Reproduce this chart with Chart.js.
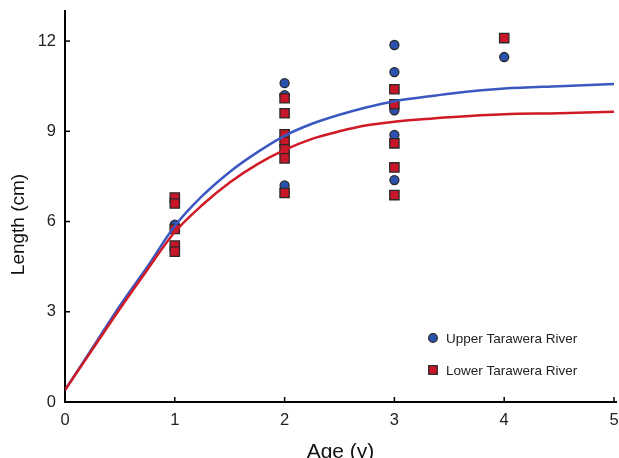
<!DOCTYPE html>
<html>
<head>
<meta charset="utf-8">
<script src="https://cdn.jsdelivr.net/npm/chart.js@4.4.1/dist/chart.umd.min.js"></script>
<style>
  html, body { margin: 0; padding: 0; background: #fff; }
  #wrap { width: 619px; height: 458px; }
</style>
</head>
<body>
<div id="wrap"><canvas id="growthChart" width="619" height="458"></canvas></div>
<script>
// Observed lengths by age
const upperAges = [1, 2, 2, 2, 2, 3, 3, 3, 3, 3, 4];
const upperLengths = [5.9, 10.6, 10.2, 8.3, 7.2, 11.87, 10.97, 9.7, 8.88, 7.38, 11.47];

const lowerAges = [1, 1, 1, 1, 1, 2, 2, 2, 2, 2, 2, 2, 3, 3, 3, 3, 3, 4];
const lowerLengths = [6.8, 6.6, 5.75, 5.2, 5.0, 10.1, 9.6, 8.9, 8.65, 8.4, 8.1, 6.95, 10.4, 9.9, 8.6, 7.8, 6.88, 12.1];

// Fitted growth curves
const curveAges = [0, 0.25, 0.5, 0.75, 1, 1.25, 1.5, 1.75, 2, 2.25, 2.5, 2.75, 3, 3.25, 3.5, 4, 4.5, 5];
const upperCurve = [0.4, 1.8, 3.2, 4.5, 5.85, 6.85, 7.65, 8.3, 8.85, 9.25, 9.55, 9.8, 10.0, 10.13, 10.25, 10.42, 10.5, 10.57];
const lowerCurve = [0.4, 1.75, 3.1, 4.4, 5.65, 6.55, 7.3, 7.9, 8.38, 8.75, 9.0, 9.2, 9.32, 9.4, 9.47, 9.57, 9.6, 9.65];

const xTicks = [0, 1, 2, 3, 4, 5];
const yTicks = [0, 3, 6, 9, 12];

const BLUE = '#2c52b0';
const RED = '#c81628';
const BLUE_LINE = '#3a58c0';
const RED_LINE = '#d01a26';
const EDGE = '#2a2a2a';
const FONT = '"Liberation Sans", Arial, sans-serif';

const toXY = (xs, ys) => xs.map((x, i) => ({ x: x, y: ys[i] }));

// inward tick marks + axis titles + legend
const decorPlugin = {
    id: 'decor',
    afterDraw(chart) {
        const c = chart.ctx;
        const xs = chart.scales.x, ys = chart.scales.y;
        const area = chart.chartArea;
        c.save();
        c.strokeStyle = '#000';
        c.lineWidth = 1.5;
        xTicks.forEach(v => {
            if (v === 0) return;
            const px = xs.getPixelForValue(v);
            c.beginPath(); c.moveTo(px, area.bottom); c.lineTo(px, area.bottom - 5); c.stroke();
        });
        yTicks.forEach(v => {
            if (v === 0) return;
            const py = ys.getPixelForValue(v);
            c.beginPath(); c.moveTo(area.left, py); c.lineTo(area.left + 5, py); c.stroke();
        });
        // axis runs a little past the last tick
        c.lineWidth = 2;
        c.beginPath(); c.moveTo(area.right - 1, area.bottom); c.lineTo(area.right + 3, area.bottom); c.stroke();

        // axis titles
        c.fillStyle = '#111';
        c.textAlign = 'center';
        c.textBaseline = 'middle';
        c.font = '21px ' + FONT;
        c.fillText('Age (y)', (area.left + area.right) / 2 + 1, area.bottom + 50);
        c.save();
        c.translate(19, (area.top + area.bottom) / 2 + 18);
        c.rotate(-Math.PI / 2);
        c.font = '19px ' + FONT;
        c.fillText('Length (cm)', 0, 0);
        c.restore();

        // legend
        const lx = 433, ly1 = 338, ly2 = 370;
        c.lineWidth = 1.3;
        c.strokeStyle = EDGE;
        c.fillStyle = BLUE;
        c.beginPath(); c.arc(lx, ly1, 4.3, 0, Math.PI * 2); c.fill(); c.stroke();
        c.fillStyle = RED;
        c.fillRect(lx - 4.3, ly2 - 4.3, 8.6, 8.6);
        c.strokeRect(lx - 4.3, ly2 - 4.3, 8.6, 8.6);
        c.fillStyle = '#222';
        c.textAlign = 'left';
        c.font = '13.5px ' + FONT;
        c.fillText('Upper Tarawera River', lx + 13, ly1 + 1);
        c.fillText('Lower Tarawera River', lx + 13, ly2 + 1);
        c.restore();
    }
};

new Chart(document.getElementById('growthChart'), {
    type: 'scatter',
    data: {
        datasets: [
            {
                label: 'Lower fit',
                data: toXY(curveAges, lowerCurve),
                showLine: true,
                borderColor: RED_LINE,
                borderWidth: 2.5,
                pointRadius: 0,
                cubicInterpolationMode: 'monotone',
                fill: false
            },
            {
                label: 'Upper fit',
                data: toXY(curveAges, upperCurve),
                showLine: true,
                borderColor: BLUE_LINE,
                borderWidth: 2.5,
                pointRadius: 0,
                cubicInterpolationMode: 'monotone',
                fill: false
            },
            {
                label: 'Lower Tarawera River',
                data: toXY(lowerAges, lowerLengths),
                pointStyle: 'rect',
                pointRadius: 6.6,
                backgroundColor: RED,
                borderColor: EDGE,
                borderWidth: 1.3
            },
            {
                label: 'Upper Tarawera River',
                data: toXY(upperAges, upperLengths),
                pointStyle: 'circle',
                pointRadius: 4.5,
                backgroundColor: BLUE,
                borderColor: EDGE,
                borderWidth: 1.3
            }
        ]
    },
    options: {
        responsive: false,
        animation: false,
        layout: { autoPadding: false, padding: { top: 11, right: 5, left: 0, bottom: 0 } },
        plugins: { legend: { display: false }, tooltip: { enabled: false } },
        scales: {
            x: {
                type: 'linear',
                min: 0, max: 5,
                afterFit: s => { s.height = 56; s.paddingLeft = 0; s.paddingRight = 0; },
                afterBuildTicks: s => { s.ticks = xTicks.map(v => ({ value: v })); },
                grid: { display: false, drawTicks: false },
                border: { display: true, color: '#000', width: 2 },
                ticks: { color: '#222', font: { family: FONT, size: 16.5 }, padding: 9 }
            },
            y: {
                type: 'linear',
                min: 0, max: 13,
                afterFit: s => { s.width = 65; s.paddingTop = 0; s.paddingBottom = 0; },
                afterBuildTicks: s => { s.ticks = yTicks.map(v => ({ value: v })); },
                grid: { display: false, drawTicks: false },
                border: { display: true, color: '#000', width: 2 },
                ticks: { color: '#222', font: { family: FONT, size: 16.5 }, padding: 9 }
            }
        }
    },
    plugins: [decorPlugin]
});
</script>
</body>
</html>
